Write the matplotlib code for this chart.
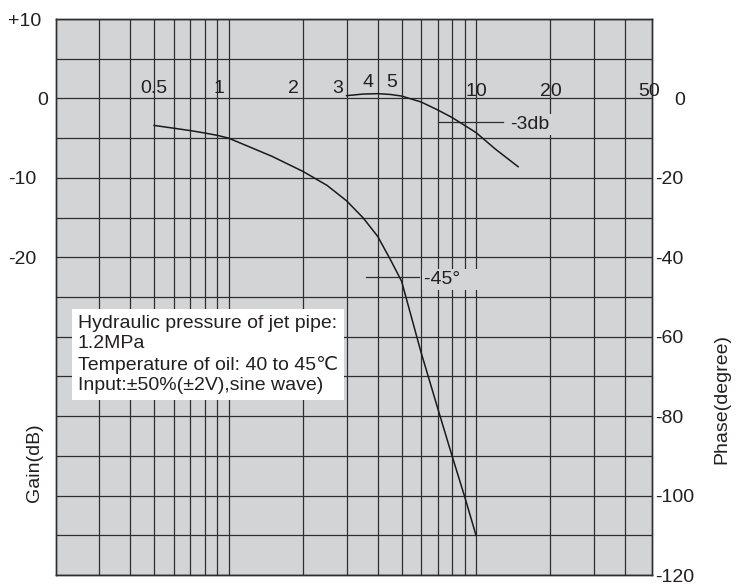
import numpy as np
import matplotlib
matplotlib.use("Agg")
import matplotlib.pyplot as plt

plt.rcParams['font.family'] = ['Liberation Sans', 'DejaVu Sans']

# grid lines on the frequency axis (Hz) and the printed frequency marks
freq_grid = [0.3, 0.4, 0.5, 0.6, 0.7, 0.8, 0.9, 1, 2, 3, 4, 5, 6, 7, 8, 9, 10, 20, 30, 40]
freq_labels = ['0.5', '1', '2', '3', '4', '5', '10', '20', '50']

gain_ticks = [10, 0, -10, -20]
gain_ticklabels = ['+10', '0', '-10', '-20']
phase_ticks = [0, -20, -40, -60, -80, -100, -120]
phase_ticklabels = ['0', '-20', '-40', '-60', '-80', '-100', '-120']

# gain response (dB)
gain_freq = [3.0, 3.5, 4.0, 4.5, 5.0, 6.0, 7.0, 8.0, 9.0, 10.0, 12.0, 14.8]
gain_db = [0.35, 0.55, 0.6, 0.5, 0.3, -0.45, -1.45, -2.4, -3.4, -4.3, -6.4, -8.6]

# phase response (degree)
phase_freq = [0.5, 0.6, 0.7, 0.8, 0.9, 1.0, 1.5, 2.0, 2.5, 3.0, 3.5, 4.0, 4.5,
              5.0, 6.0, 7.0, 8.0, 9.0, 10.0]
phase_deg = [-6.8, -7.5, -8.1, -8.7, -9.3, -10.0, -14.6, -18.4, -21.9, -25.8,
             -30.1, -34.7, -40.5, -46.0, -64.0, -78.0, -90.0, -100.3, -110.0]

note_lines = [
    "Hydraulic pressure of jet pipe:",
    "1.2MPa",
    "Temperature of oil: 40 to 45\u2103",
    "Input:\u00b150%(\u00b12V),sine wave)",
]

BG = '#d3d4d6'
GRID = '#2e2e2e'
INK = '#231f20'
FS = 14

W, H = 736, 584
fig = plt.figure(figsize=(W / 100, H / 100), dpi=100)
ax = fig.add_axes([55.7 / W, 1 - 575 / H, 596 / W, 556 / H])
ax.set_xscale('log')
ax.set_xlim(0.2, 51.3)
ax.set_ylim(-60, 10)
ax.set_facecolor(BG)
ax.set_xticks(freq_grid)
ax.set_xticks([], minor=True)
ax.set_yticks(np.arange(-60, 11, 5))
ax.grid(True, color=GRID, lw=0.9)
ax.tick_params(which='both', length=0, labelbottom=False, labelleft=False)
for sp in ax.spines.values():
    sp.set_color(GRID)
    sp.set_linewidth(1.0)

# left gain scale
for v, s in zip(gain_ticks, gain_ticklabels):
    dx = -18 if s == '0' else -48
    ax.annotate(s, xy=(0, v), xycoords=('axes fraction', 'data'),
                xytext=(dx, 0), textcoords='offset pixels',
                ha='left', va='center_baseline', fontsize=FS, color=INK)

# right phase scale (twice the gain scale)
ax2 = ax.twinx()
ax2.set_ylim(-120, 20)
ax2.set_yticks(phase_ticks)
ax2.set_yticklabels(['' if s == '0' else s for s in phase_ticklabels])
ax2.tick_params(length=0, pad=2.4, labelsize=FS, labelcolor=INK)
for sp in ax2.spines.values():
    sp.set_color(GRID)
    sp.set_linewidth(1.0)
ax2.annotate('0', xy=(1, 0), xycoords=('axes fraction', 'data'),
             xytext=(23, 0), textcoords='offset pixels',
             ha='left', va='center_baseline', fontsize=FS, color=INK)

# frequency marks sit just above the 0 dB line
label_lift = {'4': 1.4, '5': 1.4, '10': 0.3, '20': 0.3, '50': 0.3}
for s in freq_labels:
    f = float(s)
    if f.is_integer() and f < 10:
        ha, dx = 'right', -4
    else:
        ha, dx = 'center', 0
    ax.annotate(s, xy=(f, label_lift.get(s, 0.7)), xytext=(dx, 0),
                textcoords='offset pixels', ha=ha, va='baseline',
                fontsize=FS, color=INK, annotation_clip=False)

# curves
ax.plot(gain_freq, gain_db, color='#1a1a1a', lw=1.1, zorder=4)
ax2.plot(phase_freq, phase_deg, color='#1a1a1a', lw=1.1, zorder=4)

# -3 dB marker
ax.plot([7, 12.8], [-3, -3], color=GRID, lw=0.9, zorder=3)
ax.annotate('-3db', xy=(12.8, -3), xytext=(8, 0), textcoords='offset pixels',
            ha='left', va='center_baseline', fontsize=FS, color=INK, zorder=4,
            bbox=dict(boxstyle='square,pad=0.1', fc=BG, ec='none'))

# -45 degree marker
ax2.plot([3.58, 5.87], [-45, -45], color=GRID, lw=0.9, zorder=3)
ax2.annotate('-45\u00b0   ', xy=(5.87, -45), xytext=(5, 0), textcoords='offset pixels',
             ha='left', va='center_baseline', fontsize=FS, color=INK, zorder=4,
             bbox=dict(boxstyle='square,pad=0.1', fc=BG, ec='none'))

# test conditions
ax.text(0.037, 0.397, "\n".join(note_lines), transform=ax.transAxes,
        ha='left', va='center', fontsize=FS, color=INK, linespacing=1.25, zorder=5,
        bbox=dict(boxstyle='square,pad=0.3', fc='white', ec='none'))

fig.text(34 / W, 1 - 463 / H, 'Gain(dB)', rotation=90, ha='center', va='center',
         fontsize=FS, color=INK)
fig.text(722 / W, 1 - 399 / H, 'Phase(degree)', rotation=90, ha='center', va='center',
         fontsize=FS, color=INK)

fig.savefig('out.png', dpi=100, facecolor='white')
